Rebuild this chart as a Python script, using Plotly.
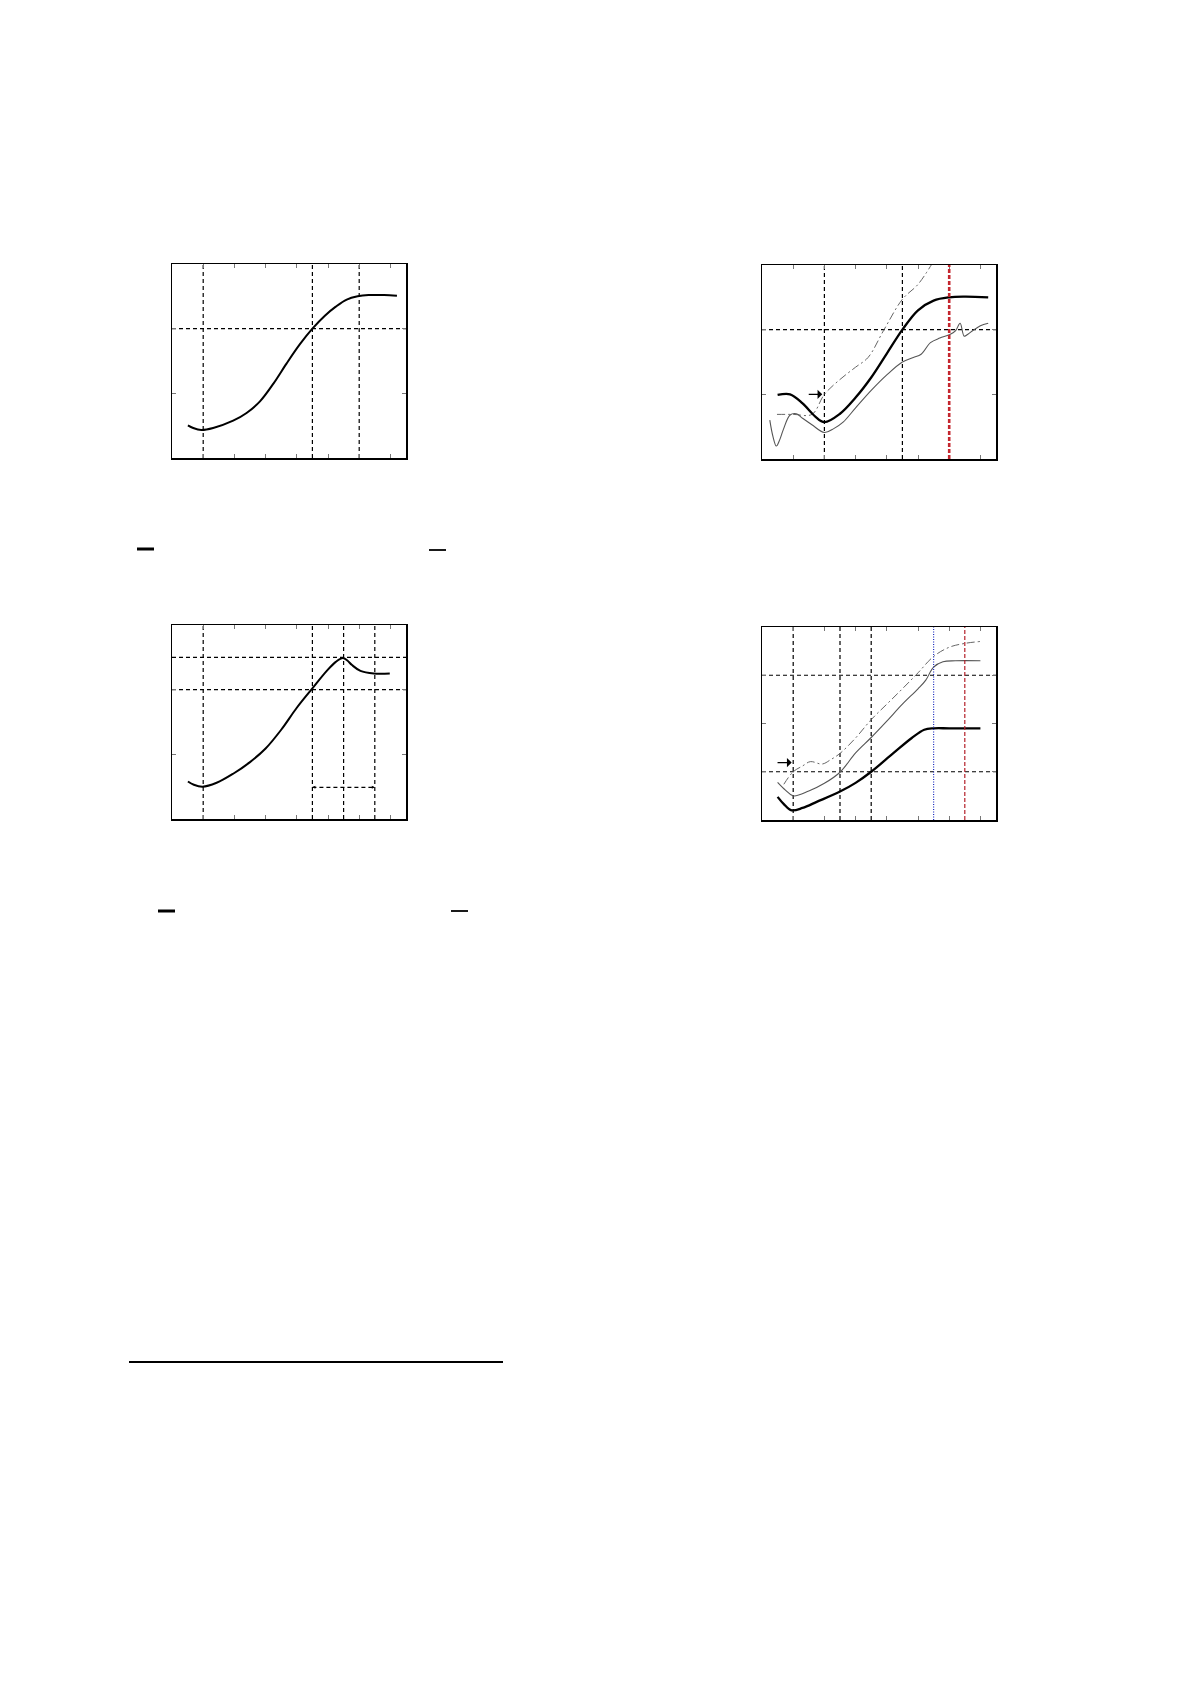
import plotly.graph_objects as go

W, H = 1191, 1685

# ---------------- data ----------------
# Panel 1 (top left)
p1_x = [0.51, 0.68, 0.94, 1.32, 1.96, 2.39, 2.82, 3.25, 3.67, 4.1, 4.5, 4.9, 5.25, 5.6, 5.95, 6.3, 6.8, 7.21]
p1_y = [0.505, 0.464, 0.433, 0.464, 0.577, 0.696, 0.876, 1.15, 1.46, 1.76, 2.0, 2.2, 2.34, 2.45, 2.5, 2.52, 2.52, 2.51]
p1_vgrid = [1.0, 4.5, 6.0]
p1_hgrid = [2.0]

# Panel 2 (top right)
p2_thick_x = [0.5, 0.9, 1.3, 1.7, 2.0, 2.5, 3.0, 3.5, 4.0, 4.5, 5.0, 5.5, 6.0, 6.5, 7.25]
p2_thick_y = [0.99, 1.0, 0.86, 0.66, 0.57, 0.7, 0.95, 1.26, 1.63, 2.0, 2.3, 2.45, 2.5, 2.51, 2.5]
p2_thin_x = [0.25, 0.35, 0.46, 0.57, 0.68, 0.9, 1.1, 1.3, 1.6, 2.0, 2.3, 2.6, 3.0, 3.5, 4.0,
             4.5, 4.85, 5.1, 5.4, 5.7, 6.0, 6.2, 6.35, 6.48, 6.6, 6.77, 7.0, 7.25]
p2_thin_y = [0.6, 0.35, 0.2, 0.3, 0.45, 0.68, 0.7, 0.63, 0.53, 0.41, 0.47, 0.57, 0.79, 1.06, 1.3,
             1.5, 1.57, 1.62, 1.8, 1.87, 1.92, 1.98, 2.1, 1.9, 1.93, 1.99, 2.06, 2.1]
p2_dd_x = [0.48, 1.0, 1.6, 2.0, 2.5, 3.0, 3.4, 3.9, 4.5, 5.0, 5.45]
p2_dd_y = [0.69, 0.69, 0.69, 1.0, 1.23, 1.42, 1.57, 1.99, 2.47, 2.7, 3.02]
p2_vgrid = [2.0, 4.5]
p2_hgrid = [2.0]
p2_red = 6.0
p2_arrow = (1.45, 1.93, 1.0)

# Panel 3 (bottom left)
p3_x = [0.51, 0.7, 0.975, 1.43, 1.96, 2.5, 3.0, 3.5, 4.0, 4.5, 4.96, 5.25, 5.48, 5.62, 5.77, 6.04, 6.47, 6.98]
p3_y = [0.58, 0.53, 0.5, 0.56, 0.7, 0.88, 1.09, 1.38, 1.72, 2.02, 2.29, 2.43, 2.49, 2.45, 2.38, 2.29, 2.25, 2.25]
p3_vgrid = [1.0, 4.5, 5.5, 6.5]
p3_hgrid = [2.0, 2.5]
p3_span = (4.5, 6.5, 0.49)

# Panel 4 (bottom right)
p4_thick_x = [0.5, 0.7, 0.95, 1.3, 1.77, 2.5, 3.0, 3.5, 4.2, 4.8, 5.2, 5.5, 6.0, 7.0]
p4_thick_y = [0.48, 0.33, 0.2, 0.25, 0.38, 0.59, 0.77, 1.0, 1.38, 1.7, 1.87, 1.9, 1.9, 1.9]
p4_thin_x = [0.5, 0.75, 1.0, 1.5, 2.0, 2.5, 3.0, 3.5, 4.0, 4.5, 5.0, 5.25, 5.5, 5.8, 6.2, 7.0]
p4_thin_y = [0.78, 0.62, 0.5, 0.6, 0.76, 0.99, 1.39, 1.71, 2.05, 2.4, 2.72, 2.9, 3.17, 3.28, 3.3, 3.3]
p4_dd_x = [0.7, 1.0, 1.3, 1.55, 1.93, 2.2, 2.5, 3.0, 3.5, 4.0, 4.5, 5.0, 5.5, 6.0, 6.5, 7.0]
p4_dd_y = [0.74, 1.0, 1.12, 1.21, 1.16, 1.25, 1.38, 1.7, 2.08, 2.4, 2.72, 3.05, 3.39, 3.58, 3.66, 3.7]
p4_vgrid = [1.0, 2.5, 3.5]
p4_hgrid = [1.0, 3.0]
p4_blue = 5.5
p4_red = 6.5
p4_arrow = (0.45, 0.95, 1.19)

x_ticks = [1, 2, 3, 4, 5, 6, 7]

# ---------------- layout helpers ----------------
def px_x(px):
    return px / W

def px_y(py):
    return 1 - py / H

panels = {
    1: dict(x=(172, 406), y=(264, 458), yr=[0, 3], yt=[1, 2]),
    2: dict(x=(762, 996), y=(265, 459), yr=[0, 3], yt=[1, 2]),
    3: dict(x=(172, 406), y=(625, 819), yr=[0, 3], yt=[1, 2]),
    4: dict(x=(762, 996), y=(627, 820), yr=[0, 4], yt=[1, 2, 3]),
}

GRID_DASH = "4px,3px"

fig = go.Figure()
layout = dict(width=W, height=H, margin=dict(l=0, r=0, t=0, b=0),
              paper_bgcolor="white", plot_bgcolor="white", showlegend=False)

for i, p in panels.items():
    sx = "" if i == 1 else str(i)
    layout["xaxis" + sx] = dict(
        domain=[px_x(p["x"][0]), px_x(p["x"][1])], range=[0, 7.5],
        anchor="y" + sx, showgrid=False, zeroline=False, showticklabels=False,
        showline=True, linecolor="black", linewidth=1.5, mirror="allticks",
        ticks="inside", ticklen=4, tickcolor="#777", tickvals=x_ticks)
    layout["yaxis" + sx] = dict(
        domain=[px_y(p["y"][1]), px_y(p["y"][0])], range=p["yr"],
        anchor="x" + sx, showgrid=False, zeroline=False, showticklabels=False,
        showline=True, linecolor="black", linewidth=1.5, mirror="allticks",
        ticks="inside", ticklen=4, tickcolor="#777", tickvals=p["yt"])

fig.update_layout(**layout)

shapes = []
annotations = []

def grid(i, vs, hs):
    sx = "" if i == 1 else str(i)
    for v in vs:
        shapes.append(dict(type="line", xref="x" + sx, yref="y" + sx + " domain",
                           x0=v, x1=v, y0=0, y1=1,
                           line=dict(color="black", width=1.2, dash=GRID_DASH), layer="below"))
    for h in hs:
        shapes.append(dict(type="line", xref="x" + sx + " domain", yref="y" + sx,
                           x0=0, x1=1, y0=h, y1=h,
                           line=dict(color="black", width=1.2, dash=GRID_DASH), layer="below"))

grid(1, p1_vgrid, p1_hgrid)
grid(2, p2_vgrid, p2_hgrid)
grid(3, p3_vgrid, p3_hgrid)
grid(4, p4_vgrid, p4_hgrid)

# special vertical lines
shapes.append(dict(type="line", xref="x2", yref="y2 domain", x0=p2_red, x1=p2_red, y0=0, y1=1,
                   line=dict(color="#c4262e", width=2.6, dash="4px,2px")))
shapes.append(dict(type="line", xref="x4", yref="y4 domain", x0=p4_red, x1=p4_red, y0=0, y1=1,
                   line=dict(color="#b3202a", width=1.2, dash="4px,2px")))
shapes.append(dict(type="line", xref="x4", yref="y4 domain", x0=p4_blue, x1=p4_blue, y0=0, y1=1,
                   line=dict(color="#2030c0", width=1.2, dash="1px,1.5px")))

# dashed span in panel 3
shapes.append(dict(type="line", xref="x3", yref="y3", x0=p3_span[0], x1=p3_span[1],
                   y0=p3_span[2], y1=p3_span[2], line=dict(color="black", width=1.2, dash=GRID_DASH)))
for xa, xb in [(p3_span[0], p3_span[0] + 0.12), (p3_span[1], p3_span[1] - 0.12)]:
    annotations.append(dict(x=xa, y=p3_span[2], ax=xb, ay=p3_span[2], xref="x3", yref="y3",
                            axref="x3", ayref="y3", text="", showarrow=True,
                            arrowhead=2, arrowsize=0.6, arrowwidth=1, arrowcolor="black"))

# arrows in panels 2 and 4
for ref, (xa, xb, yv) in [("2", p2_arrow), ("4", p4_arrow)]:
    annotations.append(dict(x=xb, y=yv, ax=xa, ay=yv, xref="x" + ref, yref="y" + ref,
                            axref="x" + ref, ayref="y" + ref, text="", showarrow=True,
                            arrowhead=1, arrowsize=1.3, arrowwidth=1.2, arrowcolor="black"))

# page decorations (remnants of page layout)
def hline_px(x0, x1, y, w):
    shapes.append(dict(type="line", xref="paper", yref="paper",
                       x0=px_x(x0), x1=px_x(x1), y0=px_y(y), y1=px_y(y),
                       line=dict(color="black", width=w)))

hline_px(137, 154, 549, 3)
hline_px(429, 446, 550, 1.8)
hline_px(158, 175, 911, 3)
hline_px(451, 468, 911, 1.8)
hline_px(129, 503, 1362, 2.2)

fig.update_layout(shapes=shapes, annotations=annotations)

# ---------------- traces ----------------
def add(i, x, y, color, width, dash="solid"):
    sx = "" if i == 1 else str(i)
    fig.add_trace(go.Scatter(x=x, y=y, mode="lines", xaxis="x" + sx, yaxis="y" + sx,
                             line=dict(color=color, width=width, dash=dash,
                                       shape="spline", smoothing=1.0),
                             hoverinfo="skip"))

add(1, p1_x, p1_y, "black", 2)
add(2, p2_dd_x, p2_dd_y, "#666", 1, "8px,3px,2px,3px")
add(2, p2_thin_x, p2_thin_y, "#555", 1.1)
add(2, p2_thick_x, p2_thick_y, "black", 2.3)
add(3, p3_x, p3_y, "black", 2)
add(4, p4_dd_x, p4_dd_y, "#666", 1, "8px,3px,2px,3px")
add(4, p4_thin_x, p4_thin_y, "#555", 1.1)
add(4, p4_thick_x, p4_thick_y, "black", 2.3)

fig.write_html("out.html", config={"displayModeBar": False, "staticPlot": True},
               post_script="document.body.style.margin='0px';document.body.style.padding='0px';")
